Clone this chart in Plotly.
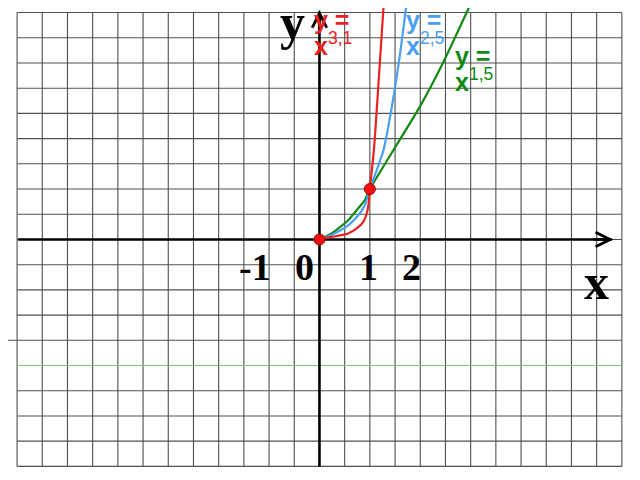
import numpy as np
import plotly.graph_objects as go

# curves (x, y in grid units)
red_x = [0, 0.24, 0.57, 0.74, 0.87, 0.94, 0.98, 1.0, 1.08, 1.15, 1.28]
red_y = [0, 0.05, 0.12, 0.22, 0.35, 0.52, 0.75, 1.0, 1.77, 2.77, 4.75]

blue_x = [0, 0.24, 0.57, 0.77, 0.90, 1.0, 1.27, 1.46, 1.61, 1.73]
blue_y = [0, 0.09, 0.28, 0.48, 0.68, 1.0, 1.77, 2.77, 3.76, 4.69]

green_x = [0, 0.24, 0.57, 0.77, 0.90, 1.0, 1.46, 1.99, 2.45, 3.04]
green_y = [0, 0.12, 0.38, 0.62, 0.78, 1.0, 1.76, 2.63, 3.50, 4.76]

point_x = [0, 1]
point_y = [0, 1]

tick_labels = ["-1", "0", "1", "2"]
tick_pos = [-1.27, -0.29, 0.98, 1.83]

powers = ["3,1", "2,5", "1,5"]

RED = "#e8231f"
BLUE = "#4a9ff0"
GREEN = "#148814"
GRID = "#505050"

fig = go.Figure()

# -------------------------------
# grid paper + axis lines (under the curves)
# -------------------------------
shapes = []
for gx in np.arange(-6, 6.01, 0.5):
    shapes.append(dict(type="line", x0=gx, x1=gx, y0=-4.5, y1=4.5,
                       line=dict(color=GRID, width=1.1), layer="below"))
for gy in np.arange(-4.5, 4.51, 0.5):
    if abs(gy + 2.5) < 1e-6:
        col, x0 = "#7fbf7f", -6.0
    elif abs(gy + 2.0) < 1e-6:
        col, x0 = GRID, -6.4
    else:
        col, x0 = GRID, -6.0
    shapes.append(dict(type="line", x0=x0, x1=6.0, y0=gy, y1=gy,
                       line=dict(color=col, width=1.1), layer="below"))
shapes.append(dict(type="line", x0=-5.98, x1=5.8, y0=0, y1=0,
                   line=dict(color="black", width=2.6), layer="below"))
shapes.append(dict(type="line", x0=0, x1=0, y0=-4.5, y1=4.52,
                   line=dict(color="black", width=2.6), layer="below"))
fig.update_layout(shapes=shapes)

# -------------------------------
# curves
# -------------------------------
for xs, ys, col in [(green_x, green_y, GREEN), (blue_x, blue_y, BLUE), (red_x, red_y, RED)]:
    fig.add_trace(go.Scatter(x=xs, y=ys, mode="lines",
                             line=dict(color=col, width=2.2, shape="spline", smoothing=0.6),
                             hoverinfo="skip"))

fig.add_trace(go.Scatter(x=point_x, y=point_y, mode="markers",
                         marker=dict(color="#f01010", size=11, line=dict(color="#a00000", width=1)),
                         hoverinfo="skip"))

# -------------------------------
# arrow heads and labels
# -------------------------------
ann = []
ann.append(dict(x=5.83, y=0, ax=5.4, ay=0, xref="x", yref="y", axref="x", ayref="y",
                text="", showarrow=True, arrowhead=5, arrowsize=1.1, arrowwidth=2.6,
                arrowcolor="black", standoff=0))
ann.append(dict(x=0, y=4.55, ax=0, ay=4.1, xref="x", yref="y", axref="x", ayref="y",
                text="", showarrow=True, arrowhead=5, arrowsize=1.1, arrowwidth=2.6,
                arrowcolor="black", standoff=0))

serif = "Liberation Serif"
ann.append(dict(x=-0.53, y=4.32, xref="x", yref="y", text="<b>y</b>", showarrow=False,
                font=dict(family=serif, size=50, color="black")))
ann.append(dict(x=5.5, y=-0.85, xref="x", yref="y", text="<b>x</b>", showarrow=False,
                font=dict(family=serif, size=50, color="black")))
for t, p in zip(tick_labels, tick_pos):
    ann.append(dict(x=p, y=-0.55, xref="x", yref="y", text="<b>" + t + "</b>", showarrow=False,
                    font=dict(family=serif, size=38, color="black")))

# curve labels, two lines each set a little tighter than plotly's own line height
sans = "Liberation Sans"
for num, lx, ly, col in zip(powers, [-0.14, 1.68, 2.65], [4.35, 4.35, 3.64], [RED, BLUE, GREEN]):
    ann.append(dict(x=lx, y=ly, xref="x", yref="y", text="<b>y =</b>",
                    showarrow=False, xanchor="left", yanchor="middle",
                    font=dict(family=sans, size=25, color=col)))
    ann.append(dict(x=lx, y=ly - 0.48, xref="x", yref="y",
                    text="<b>x</b><sup>" + num + "</sup>",
                    showarrow=False, xanchor="left", yanchor="middle",
                    font=dict(family=sans, size=25, color=col)))
fig.update_layout(annotations=ann)

# the page puts the figure 8 px in from the top left corner
fig.update_layout(
    width=632, height=472,
    margin=dict(l=0, r=0, t=0, b=0),
    plot_bgcolor="white", paper_bgcolor="white",
    showlegend=False,
    xaxis=dict(range=[-6.18, 6.36], visible=False),
    yaxis=dict(range=[-4.77, 4.59], visible=False),
)

fig.write_html("out.html")
